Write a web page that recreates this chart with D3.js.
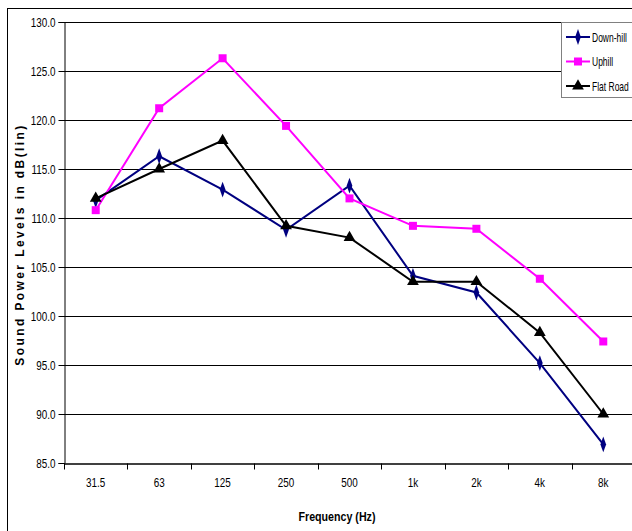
<!DOCTYPE html>
<html><head><meta charset="utf-8">
<script src="https://cdn.jsdelivr.net/npm/d3@7"></script>
<style>
html,body{margin:0;padding:0;background:#fff;}
text{font-family:"Liberation Sans Narrow","Arial Narrow","Liberation Sans",Arial,sans-serif;}
</style></head>
<body>
<svg id="c" width="632" height="531"></svg>
<script>
const categories = ["31.5","63","125","250","500","1k","2k","4k","8k"];
const downhill = [111.8,116.3,112.9,108.8,113.3,104.1,102.4,95.2,86.9];
const uphill   = [110.8,121.2,126.3,119.4,112.0,109.2,108.9,103.8,97.4];
const flatRoad = [112.0,115.0,117.9,109.2,108.0,103.5,103.5,98.3,90.0];
const yTicks = [85,90,95,100,105,110,115,120,125,130];
const seriesNames = ["Down-hill","Uphill","Flat Road"];
const seriesColors = ["#000080","#FF00FF","#000000"];

const svg = d3.select("#c");
const L = 64, R = 635, T = 22, B = 463;

function narrow(sel, f){
  sel.each(function(){
    const w = this.getComputedTextLength()*f;
    d3.select(this).attr("textLength", w).attr("lengthAdjust","spacingAndGlyphs");
  });
}

// outer border
svg.append("rect").attr("x",7.5).attr("y",8.5).attr("width",640).attr("height",540)
  .attr("fill","none").attr("stroke","#000").attr("stroke-width",1);

const x = d3.scaleBand().domain(categories).range([L,R]);
const y = d3.scaleLinear().domain([85,130]).range([B,T]);

// gridlines
svg.append("g").selectAll("line").data(yTicks.filter(d=>d>85)).join("line")
  .attr("x1",L).attr("x2",R).attr("y1",d=>Math.round(y(d))+0.5).attr("y2",d=>Math.round(y(d))+0.5)
  .attr("stroke","#000").attr("stroke-width",1);

// y axis
const yAxis = d3.axisLeft(y).tickValues(yTicks).tickFormat(d3.format(".1f")).tickSize(6).tickPadding(3);
const gy = svg.append("g").attr("transform",`translate(${L+0.5},0)`).call(yAxis);
gy.select(".domain").attr("stroke","#000");
gy.selectAll(".tick line").attr("stroke","#000");
gy.selectAll("text").attr("font-size","13px").attr("fill","#000").call(narrow,0.76);

// x axis
const xAxis = d3.axisBottom(x).tickSize(0).tickPadding(14);
const gx = svg.append("g").attr("transform",`translate(0,${B+0.5})`).call(xAxis);
gx.select(".domain").attr("stroke","#000").attr("stroke-width",1.5);
gx.selectAll("text").attr("font-size","13px").attr("fill","#000").call(narrow,0.76);
// category boundary ticks
gx.append("g").selectAll("line").data(categories).join("line")
  .attr("x1",d=>Math.round(x(d))+0.5).attr("x2",d=>Math.round(x(d))+0.5)
  .attr("y1",0).attr("y2",6).attr("stroke","#000");

// axis titles
svg.append("text").attr("x",337).attr("y",521).attr("text-anchor","middle")
  .attr("font-size","13px").attr("font-weight","bold").text("Frequency (Hz)").call(narrow,0.82);
svg.append("text").attr("transform",`translate(24,${(T+B)/2+2}) rotate(-90)`).attr("text-anchor","middle")
  .attr("font-size","12px").attr("font-weight","bold").attr("letter-spacing","2.4px")
  .text("Sound Power Levels in dB(lin)");

const data = [downhill, uphill, flatRoad];
const line = d3.line().x((d,i)=>x(categories[i])+x.bandwidth()/2).y(d=>y(d));

const diamond = d3.symbol().type(d3.symbolDiamond).size(50);
const square = d3.symbol().type(d3.symbolSquare).size(64);
const triangle = d3.symbol().type(d3.symbolTriangle).size(60);
const symbols = [diamond, square, triangle];

data.forEach((vals,si)=>{
  svg.append("path").datum(vals).attr("d",line).attr("fill","none")
    .attr("stroke",seriesColors[si]).attr("stroke-width",2);
});
data.forEach((vals,si)=>{
  svg.append("g").selectAll("path").data(vals).join("path")
    .attr("transform",(d,i)=>`translate(${x(categories[i])+x.bandwidth()/2},${y(d)})${si===0?" scale(0.75,1.2)":""}`)
    .attr("d",symbols[si]()).attr("fill",seriesColors[si]);
});

// legend
const lg = svg.append("g");
lg.append("rect").attr("x",561.5).attr("y",22.5).attr("width",80).attr("height",75)
  .attr("fill","#fff").attr("stroke","#808080");
seriesNames.forEach((n,i)=>{
  const yy = 37 + i*24.5;
  lg.append("line").attr("x1",566).attr("x2",590).attr("y1",yy).attr("y2",yy)
    .attr("stroke",seriesColors[i]).attr("stroke-width",2);
  lg.append("path").attr("transform",`translate(578,${yy})${i===0?" scale(0.75,1.2)":""}`)
    .attr("d",symbols[i]()).attr("fill",seriesColors[i]);
  lg.append("text").attr("transform",`translate(592,${yy+4.5}) scale(0.68,1)`)
    .attr("font-size","12.5px").attr("fill","#000").text(n);
});
</script>
</body></html>
